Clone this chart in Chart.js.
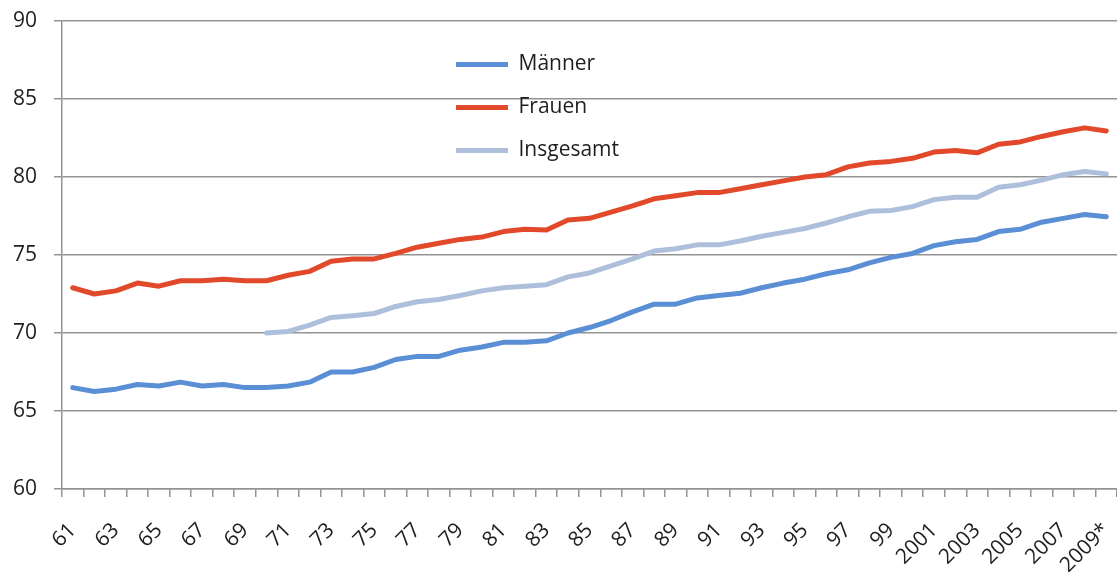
<!DOCTYPE html>
<html>
<head>
<meta charset="utf-8">
<script src="https://cdn.jsdelivr.net/npm/chart.js@4/dist/chart.umd.min.js"></script>
<style>
    html, body { margin: 0; padding: 0; background: #fff; }
    #wrap { width: 1117px; height: 572px; position: relative; }
</style>
</head>
<body>
<div id="wrap"><canvas id="lifeChart"></canvas></div>
<script>
/* ── Daten ─────────────────────────────────────── */
const years = ['61', '62', '63', '64', '65', '66', '67', '68', '69', '70',
    '71', '72', '73', '74', '75', '76', '77', '78', '79', '80',
    '81', '82', '83', '84', '85', '86', '87', '88', '89', '90',
    '91', '92', '93', '94', '95', '96', '97', '98', '99', '2000',
    '2001', '2002', '2003', '2004', '2005', '2006', '2007', '2008', '2009*'];

const maenner = [66.5, 66.25, 66.4, 66.7, 66.6, 66.85, 66.6, 66.7, 66.5, 66.5,
    66.6, 66.85, 67.5, 67.5, 67.8, 68.3, 68.5, 68.5, 68.9, 69.1,
    69.4, 69.4, 69.5, 70.0, 70.35, 70.8, 71.35, 71.85, 71.85, 72.25,
    72.4, 72.55, 72.9, 73.2, 73.45, 73.8, 74.05, 74.5, 74.85, 75.1,
    75.6, 75.85, 76.0, 76.5, 76.65, 77.1, 77.35, 77.6, 77.45];

const frauen = [72.9, 72.5, 72.7, 73.2, 73.0, 73.35, 73.35, 73.45, 73.35, 73.35,
    73.7, 73.95, 74.6, 74.75, 74.75, 75.1, 75.5, 75.75, 76.0, 76.15,
    76.5, 76.65, 76.6, 77.25, 77.35, 77.75, 78.15, 78.6, 78.8, 79.0,
    79.0, 79.25, 79.5, 79.75, 80.0, 80.15, 80.65, 80.9, 81.0, 81.2,
    81.6, 81.7, 81.55, 82.1, 82.25, 82.6, 82.9, 83.15, 82.95];

const insgesamt = [null, null, null, null, null, null, null, null, null, 70.0,
    70.1, 70.5, 71.0, 71.1, 71.25, 71.7, 72.0, 72.15, 72.4, 72.7,
    72.9, 73.0, 73.1, 73.6, 73.85, 74.3, 74.75, 75.25, 75.4, 75.65,
    75.65, 75.9, 76.2, 76.45, 76.7, 77.05, 77.45, 77.8, 77.85, 78.1,
    78.55, 78.7, 78.7, 79.35, 79.5, 79.8, 80.15, 80.35, 80.2];

/* ── Stil ──────────────────────────────────────── */
const FONT = { family: '"Open Sans", sans-serif', size: 21 };
const TEXT = '#1e1e1e';
const GRID = '#939393';

function series(label, data, color) {
    return {
        label,
        data,
        borderColor: color,
        backgroundColor: color,
        borderWidth: 5,
        borderCapStyle: 'round',
        borderJoinStyle: 'round',
        pointRadius: 0,
        tension: 0,
    };
}

// Legende in die Zeichenfläche schieben
const legendSpot = {
    id: 'legendSpot',
    afterLayout(chart) {
        const lg = chart.legend;
        if (!lg) return;
        lg.left = 434;
        lg.top = 32;
    },
};

new Chart(document.getElementById('lifeChart'), {
    type: 'line',
    data: {
        labels: years,
        datasets: [
            series('Männer', maenner, '#5b8fd5'),
            series('Frauen', frauen, '#e2492a'),
            series('Insgesamt', insgesamt, '#aebfdc'),
        ],
    },
    options: {
        responsive: true,
        maintainAspectRatio: false,
        animation: false,
        layout: {
            padding: { top: 21, right: -3, bottom: 0, left: 0 },
        },
        plugins: {
            legend: {
                position: 'chartArea',
                align: 'start',
                labels: {
                    usePointStyle: true,
                    pointStyle: 'line',
                    pointStyleWidth: 52,
                    padding: 22,
                    color: TEXT,
                    font: FONT,
                },
            },
            tooltip: { enabled: false },
        },
        scales: {
            x: {
                offset: true,
                afterFit: (s) => {
                    s.height = 83;
                    s.paddingLeft = 0;
                    s.paddingRight = 0;
                },
                grid: {
                    offset: true,
                    drawOnChartArea: false,
                    tickLength: 8,
                    color: GRID,
                    lineWidth: 1.5,
                },
                border: { color: GRID, width: 1.5 },
                ticks: {
                    autoSkip: false,
                    minRotation: 45,
                    maxRotation: 45,
                    padding: 21,
                    color: TEXT,
                    font: FONT,
                    callback: (v, i) => (i % 2 === 0 ? years[i] : ''),
                },
            },
            y: {
                min: 60,
                max: 90,
                afterFit: (s) => {
                    s.width = 62;
                    s.paddingTop = 0;
                    s.paddingBottom = 0;
                },
                grid: {
                    color: GRID,
                    lineWidth: 1.5,
                    tickLength: 8,
                },
                border: { color: GRID, width: 1.5 },
                ticks: {
                    stepSize: 5,
                    padding: 17,
                    color: TEXT,
                    font: FONT,
                },
            },
        },
    },
    plugins: [legendSpot],
});
</script>
</body>
</html>
